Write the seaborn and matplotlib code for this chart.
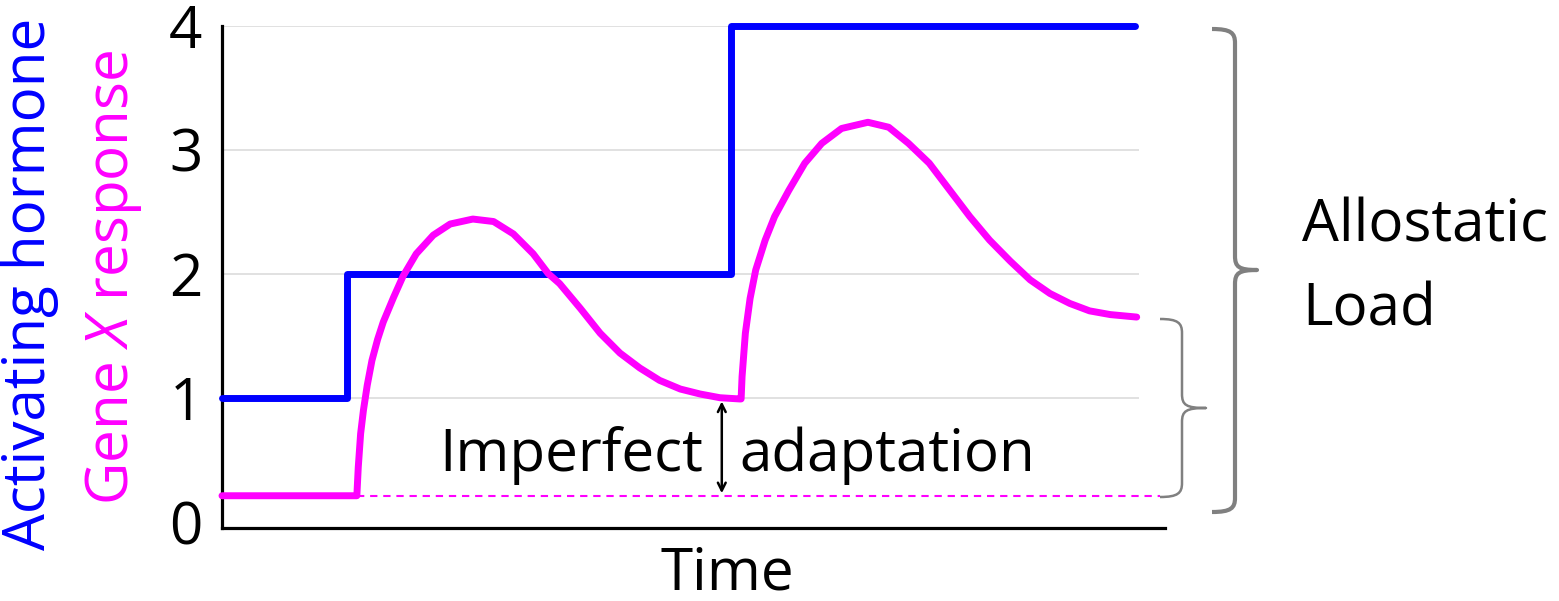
import numpy as np
import pandas as pd
import matplotlib
matplotlib.use("Agg")
import matplotlib.pyplot as plt
import seaborn as sns
from matplotlib.path import Path
from matplotlib.patches import PathPatch

# hormone level (step function)
hormone_t = [0.00, 1.33, 5.40, 9.68]
hormone_v = [1.0, 2.0, 4.0, 4.0]

# gene X response
gene_t = [0.00, 1.43, 1.445, 1.47, 1.50, 1.54, 1.59, 1.65, 1.71, 1.82, 1.92,
          2.06, 2.24, 2.42, 2.66, 2.88, 3.09, 3.30, 3.46, 3.58, 3.80, 4.01,
          4.22, 4.43, 4.64, 4.86, 5.07, 5.28, 5.49, 5.505,
          5.515, 5.55, 5.60, 5.66, 5.76, 5.86, 6.01, 6.18, 6.36, 6.57, 6.85,
          7.07, 7.28, 7.50, 7.72, 7.93, 8.14, 8.36, 8.57, 8.78, 8.99, 9.20,
          9.42, 9.70]
gene_v = [0.21, 0.21, 0.44, 0.71, 0.90, 1.10, 1.30, 1.47, 1.61, 1.81, 1.98,
          2.16, 2.31, 2.40, 2.44, 2.42, 2.32, 2.16, 2.00, 1.92, 1.72, 1.52,
          1.36, 1.24, 1.14, 1.07, 1.03, 1.00, 0.99, 0.99,
          1.17, 1.52, 1.80, 2.03, 2.27, 2.46, 2.67, 2.89, 3.05, 3.17, 3.22,
          3.18, 3.05, 2.89, 2.67, 2.46, 2.27, 2.10, 1.95, 1.84, 1.76, 1.70,
          1.67, 1.65]

baseline_end = 9.95
arrow_t = 5.30
yticks = [0, 1, 2, 3, 4]

BLUE = "#0000ff"
MAGENTA = "#ff00ff"
GRAY = "#808080"

sns.set_style("white")
plt.rcParams["font.family"] = ["Open Sans", "DejaVu Sans"]
plt.rcParams["mathtext.fontset"] = "custom"
plt.rcParams["mathtext.rm"] = "Open Sans"
plt.rcParams["mathtext.it"] = "Open Sans:italic"
plt.rcParams["text.color"] = "black"
plt.rcParams["ytick.color"] = "black"

W, H = 1559, 601
fig = plt.figure(figsize=(W / 100, H / 100), dpi=100)
ax = fig.add_axes([222 / W, (H - 528) / H, (1165 - 222) / W, (528 - 25.5) / H])

# light grid lines, stopping short of the axis end
ax.hlines(yticks[1:], 0, 9.72, color="#d9d9d9", lw=1.1, zorder=0)

sns.lineplot(x=hormone_t, y=hormone_v, drawstyle="steps-post", color=BLUE,
             lw=5, ax=ax, clip_on=False, zorder=3)
sns.lineplot(x=gene_t, y=gene_v, sort=False, estimator=None, color=MAGENTA,
             lw=5, ax=ax, clip_on=False, zorder=4)
ax.lines[-1].set_solid_joinstyle("round")
ax.hlines(gene_v[0], gene_t[1], baseline_end, color=MAGENTA, lw=1.5,
          linestyles=(0, (3.5, 2.8)), zorder=2, clip_on=False)

ax.annotate("", xy=(arrow_t, 0.97), xytext=(arrow_t, 0.23),
            arrowprops=dict(arrowstyle="<->", color="black", lw=1.8,
                            shrinkA=0, shrinkB=0, mutation_scale=14))
ax.text(5.10, 0.41, "Imperfect", ha="right", va="baseline", fontsize=42)
ax.text(5.49, 0.41, "adaptation", ha="left", va="baseline", fontsize=42)

ax.set_xlim(0, 10)
ax.set_ylim(-0.05, 4.0)
ax.set_yticks(yticks)
ax.set_xticks([])
ax.tick_params(axis="y", length=0, pad=14, labelsize=42, labelcolor="black")
sns.despine(ax=ax)
for s in ["left", "bottom"]:
    ax.spines[s].set_color("black")
    ax.spines[s].set_linewidth(2.3)
ax.grid(False)

fig.text(727 / W, 1 - 590 / H, "Time", ha="center", va="baseline", fontsize=42)
fig.text(30 / W, 1 - 284 / H, "Activating hormone", rotation=90, ha="center",
         va="center", fontsize=42, color=BLUE)
fig.text(113 / W, 1 - 277 / H, r"Gene $\mathit{X}$ response", rotation=90,
         ha="center", va="center", fontsize=42, color=MAGENTA)
fig.text(1302 / W, 1 - 242 / H, "Allostatic", ha="left", va="baseline", fontsize=42)
fig.text(1302 / W, 1 - 325 / H, "Load", ha="left", va="baseline", fontsize=42)


def brace(xl, xm, xt, yt, yb, ym, lw):
    # curly brace in pixel coords (y down), opening to the left
    r = 14
    pts = [(xl, yt), (xm - 4, yt), (xm, yt + 4), (xm, yt + r),
           (xm, ym - r),
           (xm, ym - 3), (xm + 4, ym), (xt, ym),
           (xm + 4, ym), (xm, ym + 3), (xm, ym + r),
           (xm, yb - r),
           (xm, yb - 4), (xm - 4, yb), (xl, yb)]
    codes = [Path.MOVETO, Path.CURVE4, Path.CURVE4, Path.CURVE4,
             Path.LINETO,
             Path.CURVE4, Path.CURVE4, Path.CURVE4,
             Path.CURVE4, Path.CURVE4, Path.CURVE4,
             Path.LINETO,
             Path.CURVE4, Path.CURVE4, Path.CURVE4]
    verts = [(x / W, 1 - y / H) for x, y in pts]
    fig.add_artist(PathPatch(Path(verts, codes), fill=False, edgecolor=GRAY,
                             lw=lw, transform=fig.transFigure,
                             capstyle="butt", joinstyle="round"))


brace(1212, 1235, 1257, 29, 512, 270, 3.0)
brace(1160, 1182, 1206, 319, 497, 408, 1.8)

fig.savefig("out.png", dpi=100)
